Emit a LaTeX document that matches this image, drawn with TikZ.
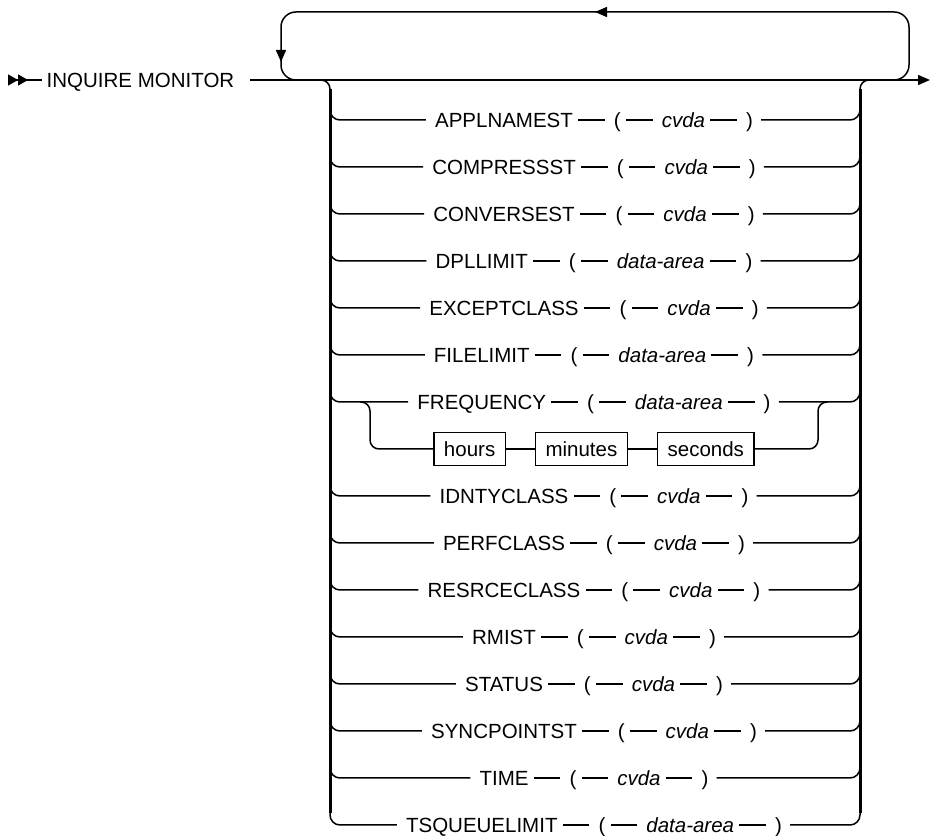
\documentclass[tikz,border=0pt]{standalone}
\usepackage{fontspec}
\setmainfont{Liberation Sans}
\usetikzlibrary{arrows.meta, matrix, calc}

\begin{document}
\begin{tikzpicture}[
    x=1pt, y=1pt,
    rr/.style={line width=1.5pt},
    seg/.style={rr, shorten >=4pt},
    rail/.style={line width=3pt},
    kwd/.style={
        font=\fontsize{20.5}{24}\selectfont, text height=16pt, text depth=1.6pt,
        inner xsep=5pt, inner ysep=0pt
    },
    param/.style={kwd, font=\fontsize{20.5}{24}\selectfont\itshape},
    unit/.style={kwd, draw, line width=1.3pt, inner xsep=10pt, minimum height=33pt},
    tip/.style={-{Triangle[length=12pt, width=10pt]}},
    syntax/.style={
        matrix of nodes, nodes={kwd}, column sep=31pt, inner sep=0pt,
        ampersand replacement=\&
    }
]
\useasboundingbox (0,0) rectangle (930,836);

% =============================================
% Entry and main line
% =============================================
\node[kwd] (title) at (140.5,756) {INQUIRE MONITOR};
\coordinate (start) at (8,756);
\coordinate (mainend) at (930,756);

\draw[rr, {Triangle[reversed, length=10pt, width=11pt]Triangle[reversed, length=10pt, width=11pt]}-]
    (start) -- (title.west);
\draw[rr, tip] ([xshift=11pt]title.east) -- (mainend);

% =============================================
% Repeat loop
% =============================================
\coordinate (loopL) at (281,824);
\coordinate (loopR) at (909,824);

\draw[rr, tip, rounded corners=15pt]
    ($(loopR |- mainend)+(-22,0)$) -| (loopR) -- ($(loopR)!0.5!(loopL)$);
\draw[rr, tip, rounded corners=15pt]
    ($(loopR)!0.5!(loopL)+(6,0)$) -- (loopL) -- ($(loopL)+(0,-50)$);
\draw[rr, rounded corners=15pt]
    ($(loopL)+(0,-46)$) |- ($(loopL |- mainend)+(20,0)$);

% =============================================
% Choice stack
% =============================================
\coordinate (lrail) at (330,756);
\coordinate (rrail) at (860,756);

\foreach \kw/\pv/\k in {APPLNAMEST/cvda/0, COMPRESSST/cvda/1, CONVERSEST/cvda/2,
    DPLLIMIT/data-area/3, EXCEPTCLASS/cvda/4, FILELIMIT/data-area/5,
    FREQUENCY/data-area/6, IDNTYCLASS/cvda/8, PERFCLASS/cvda/9,
    RESRCECLASS/cvda/10, RMIST/cvda/11, STATUS/cvda/12, SYNCPOINTST/cvda/13,
    TIME/cvda/14, TSQUEUELIMIT/data-area/15} {
    \matrix (r\k) [syntax] at (594,{716-47*\k})
        {\kw \& ( \& |[param]| \pv \& ) \\};
    \foreach \a/\b in {1/2, 2/3, 3/4}
        \draw[seg] (r\k-1-\a.east) -- (r\k-1-\b.west);
    \draw[seg, rounded corners=10pt]
        ($(lrail |- r\k-1-1.west)+(0,12)$) |- (r\k-1-1.west);
    \draw[rr, shorten <=3pt, rounded corners=10pt]
        (r\k-1-4.east) -| ($(rrail |- r\k-1-4.east)+(0,12)$);
}

% rails
\draw[rail] ($(lrail)+(0,-9)$) -- ($(lrail |- r15-1-1.west)+(0,12)$);
\draw[rail] ($(rrail)+(0,-9)$) -- ($(rrail |- r15-1-4.east)+(0,12)$);
\draw[rr, rounded corners=9pt] ($(lrail)+(-12,0)$) -| ($(lrail)+(0,-12)$);
\draw[rr, rounded corners=9pt] ($(rrail)+(0,-12)$) |- ($(rrail)+(12,0)$);

% =============================================
% FREQUENCY alternative
% =============================================
\matrix (fq) [syntax, column sep=29pt] at (594,387)
    {|[unit]| hours \& |[unit]| minutes \& |[unit]| seconds \\};
\draw[rr] (fq-1-1) -- (fq-1-2) (fq-1-2) -- (fq-1-3);

\coordinate (fl) at (370,434);
\coordinate (fr) at (818,434);
\draw[rr, rounded corners=9pt] ($(fl)+(-10,0)$) -| ($(fl)+(0,-20)$) |- (fq-1-1.west);
\draw[rr, rounded corners=9pt] (fq-1-3.east) -| ($(fr)+(0,-20)$) |- ($(fr)+(10,0)$);

\end{tikzpicture}
\end{document}
